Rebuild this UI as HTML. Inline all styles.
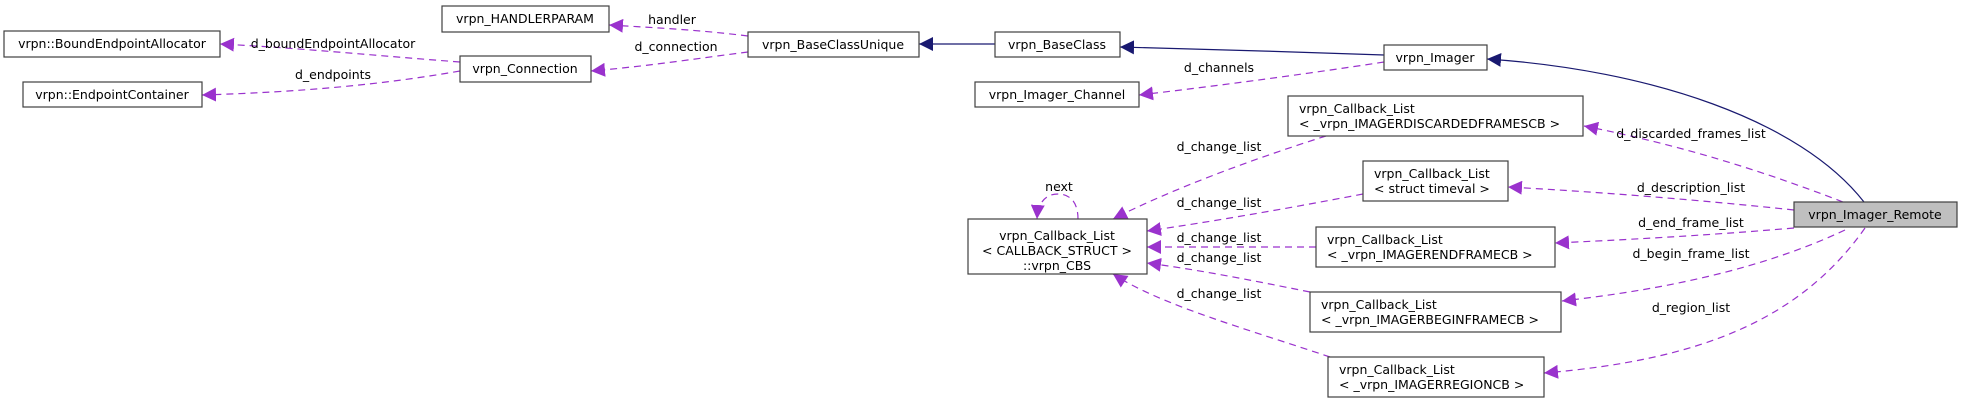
<!DOCTYPE html>
<html><head><meta charset="utf-8"><style>
html,body{margin:0;padding:0;background:#fff;}
svg{display:block;font-family:"DejaVu Sans","Liberation Sans",sans-serif;font-size:12.5px;}
</style></head><body>
<svg width="1963" height="403" viewBox="0 0 1963 403" xmlns="http://www.w3.org/2000/svg">
<defs>
<marker id="p" viewBox="0 0 10 10" refX="10" refY="5" markerWidth="14" markerHeight="14" markerUnits="userSpaceOnUse" orient="auto"><path d="M0,0L10,5L0,10z" fill="#9a32cd"/></marker>
<marker id="n" viewBox="0 0 10 10" refX="10" refY="5" markerWidth="14" markerHeight="14" markerUnits="userSpaceOnUse" orient="auto"><path d="M0,0L10,5L0,10z" fill="#191970"/></marker>
</defs>
<g fill="none" stroke="#9a32cd" stroke-width="1.2" stroke-dasharray="7,5">
<path d="M748,36 C700,30 660,28 609,25" marker-end="url(#p)"/>
<path d="M748,52 C700,58 650,66 591,71" marker-end="url(#p)"/>
<path d="M460,62 C380,56 300,48 220,44" marker-end="url(#p)"/>
<path d="M460,71 C380,85 300,92 202,95" marker-end="url(#p)"/>
<path d="M1384,62 C1300,75 1200,88 1139,95" marker-end="url(#p)"/>
<path d="M1326,136 C1250,160 1170,190 1113,219" marker-end="url(#p)"/>
<path d="M1363,194 C1290,208 1210,222 1147,231" marker-end="url(#p)"/>
<path d="M1316,247 L1147,247" marker-end="url(#p)"/>
<path d="M1310,292 C1250,280 1200,270 1147,263" marker-end="url(#p)"/>
<path d="M1330,357 C1250,330 1160,305 1113,274" marker-end="url(#p)"/>
<path d="M1078,219 C1078,200 1068,194 1058,194 C1046,194 1038,202 1037,219" marker-end="url(#p)"/>
<path d="M1843,202 C1760,170 1680,145 1584,126" marker-end="url(#p)"/>
<path d="M1794,210 C1700,200 1600,192 1508,187" marker-end="url(#p)"/>
<path d="M1794,228 C1700,236 1620,240 1555,243" marker-end="url(#p)"/>
<path d="M1845,230 C1760,270 1660,290 1562,301" marker-end="url(#p)"/>
<path d="M1865,228 C1800,320 1700,360 1544,373" marker-end="url(#p)"/>
</g>
<g fill="none" stroke="#191970" stroke-width="1.2">
<path d="M995,44 L919,44" marker-end="url(#n)"/>
<path d="M1384,55 C1300,52 1200,49 1120,47" marker-end="url(#n)"/>
<path d="M1864,202 C1800,120 1650,70 1487,59" marker-end="url(#n)"/>
</g>
<g stroke="#404040" stroke-width="1.2" fill="#fff">
<rect x="442" y="6" width="167" height="26"/>
<rect x="4" y="31" width="216" height="26"/>
<rect x="460" y="56" width="131" height="26"/>
<rect x="23" y="82" width="179" height="25"/>
<rect x="748" y="32" width="171" height="25"/>
<rect x="995" y="32" width="125" height="25"/>
<rect x="1384" y="45" width="103" height="25"/>
<rect x="975" y="82" width="164" height="25"/>
<rect x="1288" y="96" width="295" height="40"/>
<rect x="1363" y="161" width="145" height="40"/>
<rect x="968" y="219" width="179" height="55"/>
<rect x="1316" y="227" width="239" height="40"/>
<rect x="1310" y="292" width="251" height="40"/>
<rect x="1328" y="357" width="216" height="40"/>
<rect x="1794" y="202" width="163" height="25" fill="#bfbfbf"/>
</g>
<g fill="#000" text-anchor="middle">
<text x="525" y="23">vrpn_HANDLERPARAM</text>
<text x="112" y="48">vrpn::BoundEndpointAllocator</text>
<text x="525" y="73">vrpn_Connection</text>
<text x="112" y="99">vrpn::EndpointContainer</text>
<text x="833" y="49">vrpn_BaseClassUnique</text>
<text x="1057" y="49">vrpn_BaseClass</text>
<text x="1435" y="62">vrpn_Imager</text>
<text x="1057" y="99">vrpn_Imager_Channel</text>
<text x="1875" y="219">vrpn_Imager_Remote</text>
<text x="1057" y="240">vrpn_Callback_List</text>
<text x="1057" y="255">&lt; CALLBACK_STRUCT &gt;</text>
<text x="1057" y="270">::vrpn_CBS</text>
</g>
<g fill="#000">
<text x="1299" y="113">vrpn_Callback_List</text>
<text x="1299" y="128">&lt; _vrpn_IMAGERDISCARDEDFRAMESCB &gt;</text>
<text x="1374" y="178">vrpn_Callback_List</text>
<text x="1374" y="193">&lt; struct timeval &gt;</text>
<text x="1327" y="244">vrpn_Callback_List</text>
<text x="1327" y="259">&lt; _vrpn_IMAGERENDFRAMECB &gt;</text>
<text x="1321" y="309">vrpn_Callback_List</text>
<text x="1321" y="324">&lt; _vrpn_IMAGERBEGINFRAMECB &gt;</text>
<text x="1339" y="374">vrpn_Callback_List</text>
<text x="1339" y="389">&lt; _vrpn_IMAGERREGIONCB &gt;</text>
</g>
<g fill="#000" text-anchor="middle">
<text x="672" y="24">handler</text>
<text x="676" y="51">d_connection</text>
<text x="333" y="48">d_boundEndpointAllocator</text>
<text x="333" y="79">d_endpoints</text>
<text x="1219" y="72">d_channels</text>
<text x="1059" y="191">next</text>
<text x="1219" y="151">d_change_list</text>
<text x="1219" y="207">d_change_list</text>
<text x="1219" y="242">d_change_list</text>
<text x="1219" y="262">d_change_list</text>
<text x="1219" y="298">d_change_list</text>
<text x="1691" y="138">d_discarded_frames_list</text>
<text x="1691" y="192">d_description_list</text>
<text x="1691" y="227">d_end_frame_list</text>
<text x="1691" y="258">d_begin_frame_list</text>
<text x="1691" y="312">d_region_list</text>
</g>
</svg>
</body></html>
